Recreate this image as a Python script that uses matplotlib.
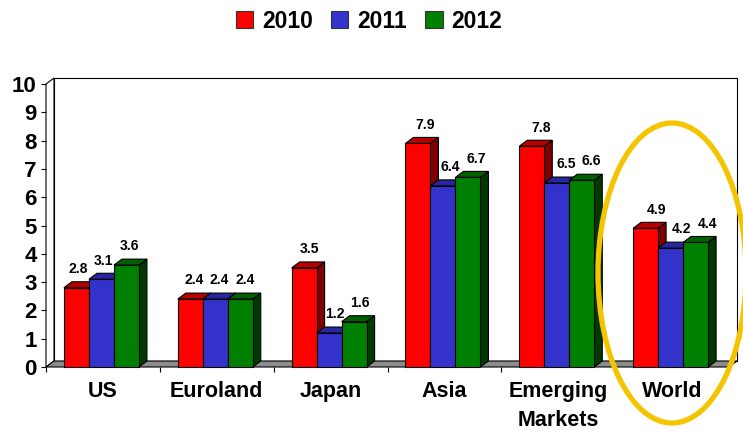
import matplotlib
matplotlib.use("Agg")
import matplotlib.pyplot as plt
from matplotlib.patches import Polygon, Rectangle, Ellipse, Patch

plt.rcParams['font.family'] = ['Liberation Sans', 'DejaVu Sans']
plt.rcParams['font.weight'] = 'bold'

categories = ["US", "Euroland", "Japan", "Asia", "Emerging\nMarkets", "World"]
series_names = ["2010", "2011", "2012"]
v2010 = [2.8, 2.4, 3.5, 7.9, 7.8, 4.9]
v2011 = [3.1, 2.4, 1.2, 6.4, 6.5, 4.2]
v2012 = [3.6, 2.4, 1.6, 6.7, 6.6, 4.4]
values = [v2010, v2011, v2012]
yticks = list(range(0, 11))

front_col = ["#FF0000", "#3333CC", "#008000"]
top_col = ["#B80000", "#2626A0", "#006000"]
side_col = ["#800000", "#1A1A70", "#003A00"]

W, H = 743, 434
fig = plt.figure(figsize=(W / 100, H / 100), dpi=100)
L, R, B, T = 46, 729, 367, 84
ax = fig.add_axes([L / W, (H - B) / H, (R - L) / W, (B - T) / H])
ncat = len(categories)
ax.set_xlim(0, ncat)
ax.set_ylim(0, 10)
pxx = (R - L) / ncat
pxy = (B - T) / 10
dx = 8 / pxx
dy = 6 / pxy

for s in ax.spines.values():
    s.set_visible(False)
ax.patch.set_visible(False)

ec = "black"
lw = 0.8
# walls and floor
ax.add_patch(Polygon([(dx, dy), (ncat + dx, dy), (ncat + dx, 10 + dy), (dx, 10 + dy)],
                     closed=True, fc="white", ec=ec, lw=lw, clip_on=False, zorder=0))
ax.add_patch(Polygon([(0, 0), (dx, dy), (dx, 10 + dy), (0, 10)],
                     closed=True, fc="white", ec=ec, lw=lw, clip_on=False, zorder=1))
ax.add_patch(Polygon([(0, 0), (ncat, 0), (ncat + dx, dy), (dx, dy)],
                     closed=True, fc="#8C8C8C", ec=ec, lw=lw, clip_on=False, zorder=1))

w = 0.2196
c = 0.487
z = 2
for i in range(ncat):
    for j in range(3):
        h = values[j][i]
        x0 = i + c - 1.5 * w + j * w
        ax.add_patch(Polygon([(x0 + w, 0), (x0 + w + dx, dy), (x0 + w + dx, h + dy), (x0 + w, h)],
                             closed=True, fc=side_col[j], ec=ec, lw=lw, clip_on=False, zorder=z))
        ax.add_patch(Polygon([(x0, h), (x0 + w, h), (x0 + w + dx, h + dy), (x0 + dx, h + dy)],
                             closed=True, fc=top_col[j], ec=ec, lw=lw, clip_on=False, zorder=z))
        ax.add_patch(Rectangle((x0, 0), w, h, fc=front_col[j], ec=ec, lw=lw,
                               clip_on=False, zorder=z + 0.5))
        z += 1
        xc = x0 + w / 2
        shift_pt = 1.1 + 0.011 * xc * pxx
        ax.annotate(f"{h:.1f}", (xc, h), xytext=(shift_pt, 13.5),
                    textcoords="offset points", ha="center", va="center",
                    fontsize=10, fontweight="bold", zorder=100)

ax.set_yticks(yticks)
ax.set_yticklabels([str(t) for t in yticks], fontsize=16, fontweight="bold")
ax.tick_params(axis="y", length=3.6, width=0.8, pad=3)
ax.set_xticks([i + 0.5 for i in range(ncat)])
ax.set_xticklabels(categories, fontsize=15.5, fontweight="bold", linespacing=1.5, va="top")
ax.set_xticks(list(range(ncat + 1)), minor=True)
ax.tick_params(axis="x", which="major", length=0, pad=10)
ax.tick_params(axis="x", which="minor", length=3.6, width=0.8)

handles = [Patch(fc=front_col[j], ec="#333333", lw=0.8, label=series_names[j]) for j in range(3)]
fig.legend(handles=handles, loc="center", bbox_to_anchor=(369 / W, 1 - 21 / H), ncol=3,
           frameon=False, prop={"size": 16.5, "weight": "bold"},
           handlelength=0.75, handleheight=0.75, handletextpad=0.4, columnspacing=0.8)

fig.add_artist(Ellipse((672 / W, 1 - 273 / H), 148 / W, 300 / H, transform=fig.transFigure,
                       fill=False, ec="#F5C400", lw=3.8, zorder=200))

fig.savefig("out.png", dpi=100)
